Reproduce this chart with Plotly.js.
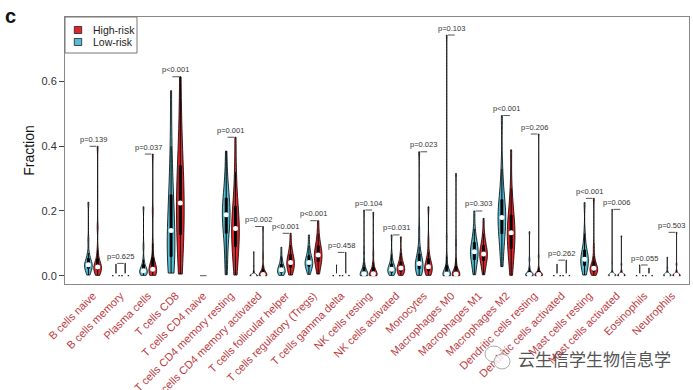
<!DOCTYPE html>
<html>
<head>
<meta charset="utf-8">
<script src="https://cdn.plot.ly/plotly-3.0.1.min.js"></script>
<style>html,body{margin:0;padding:0;background:#fff;}#chart{width:693px;height:390px;}</style>
</head>
<body>
<div id="chart"></div>
<script>
// ---------------- data ----------------
const categories = ["B cells naive","B cells memory","Plasma cells","T cells CD8","T cells CD4 naive",
  "T cells CD4 memory resting","T cells CD4 memory activated","T cells follicular helper",
  "T cells regulatory (Tregs)","T cells gamma delta","NK cells resting","NK cells activated",
  "Monocytes","Macrophages M0","Macrophages M1","Macrophages M2","Dendritic cells resting",
  "Dendritic cells activated","Mast cells resting","Mast cells activated","Eosinophils","Neutrophils"];

const pLabels = ["p=0.139","p=0.625","p=0.037","p<0.001","","p=0.001","p=0.002","p<0.001","p<0.001",
  "p=0.458","p=0.104","p=0.031","p=0.023","p=0.103","p=0.303","p<0.001","p=0.206","p=0.262",
  "p<0.001","p=0.006","p=0.055","p=0.503"];

// approximate sample quantiles per cell type, Low-risk group
const lowRisk = [
  [0.002,0.01,0.017,0.022,0.026,0.03,0.032,0.034,0.037,0.041,0.047,0.056,0.07,0.11,0.227],
  [0,0,0,0,0,0,0,0,0,0,0,0,0,0.008,0.035],
  [0.001,0.004,0.007,0.009,0.011,0.013,0.014,0.015,0.018,0.022,0.028,0.036,0.05,0.09,0.213],
  [0.008,0.025,0.04,0.055,0.07,0.085,0.11,0.14,0.16,0.19,0.22,0.26,0.31,0.4,0.572],
  [0,0,0,0,0,0,0,0,0,0,0,0,0,0,0],
  [0.003,0.04,0.09,0.125,0.15,0.165,0.178,0.188,0.198,0.21,0.225,0.245,0.27,0.31,0.385],
  [0,0,0,0,0,0,0,0,0.001,0.002,0.004,0.008,0.015,0.03,0.074],
  [0.001,0.004,0.007,0.01,0.012,0.014,0.016,0.018,0.021,0.025,0.03,0.037,0.045,0.06,0.088],
  [0.004,0.015,0.022,0.028,0.033,0.036,0.039,0.041,0.045,0.05,0.056,0.064,0.075,0.092,0.126],
  [0,0,0,0,0,0,0,0,0,0,0,0,0,0.006,0.033],
  [0,0,0,0.001,0.002,0.003,0.004,0.006,0.009,0.013,0.019,0.028,0.042,0.075,0.203],
  [0.001,0.004,0.007,0.01,0.013,0.016,0.018,0.02,0.023,0.027,0.032,0.038,0.047,0.065,0.126],
  [0.001,0.007,0.014,0.02,0.026,0.03,0.034,0.038,0.043,0.05,0.058,0.07,0.09,0.14,0.383],
  [0,0,0,0.001,0.002,0.003,0.004,0.005,0.008,0.012,0.02,0.035,0.06,0.12,0.744],
  [0.003,0.02,0.035,0.048,0.056,0.063,0.069,0.074,0.08,0.087,0.095,0.105,0.12,0.145,0.2],
  [0.028,0.07,0.1,0.125,0.145,0.16,0.17,0.18,0.192,0.205,0.22,0.24,0.27,0.33,0.495],
  [0,0,0,0,0.001,0.002,0.003,0.004,0.005,0.007,0.01,0.015,0.025,0.05,0.136],
  [0,0,0,0,0,0,0,0,0,0,0,0,0,0.005,0.035],
  [0.002,0.012,0.022,0.03,0.037,0.042,0.047,0.051,0.056,0.063,0.071,0.082,0.098,0.13,0.226],
  [0,0,0,0,0.001,0.001,0.002,0.002,0.003,0.004,0.006,0.009,0.015,0.04,0.205],
  [0,0,0,0,0,0,0,0,0,0,0,0,0,0.004,0.033],
  [0,0,0,0,0.001,0.001,0.002,0.002,0.003,0.004,0.006,0.009,0.014,0.025,0.057]
];

// approximate sample quantiles per cell type, High-risk group
const highRisk = [
  [0.001,0.007,0.013,0.017,0.021,0.024,0.026,0.027,0.031,0.036,0.043,0.055,0.08,0.15,0.40],
  [0,0,0,0,0,0,0,0,0,0,0,0,0,0.01,0.038],
  [0.001,0.005,0.009,0.012,0.015,0.017,0.019,0.02,0.024,0.03,0.04,0.06,0.1,0.2,0.376],
  [0.005,0.04,0.08,0.12,0.15,0.18,0.2,0.225,0.25,0.28,0.31,0.35,0.4,0.48,0.615],
  [0,0,0,0,0,0,0,0,0,0,0,0,0,0,0],
  [0.002,0.03,0.06,0.085,0.105,0.12,0.135,0.146,0.16,0.175,0.195,0.22,0.26,0.32,0.428],
  [0,0,0,0,0.001,0.002,0.003,0.004,0.006,0.009,0.013,0.02,0.03,0.06,0.152],
  [0.002,0.01,0.018,0.025,0.03,0.035,0.038,0.041,0.046,0.052,0.059,0.067,0.078,0.095,0.131],
  [0.005,0.02,0.032,0.042,0.05,0.055,0.06,0.064,0.07,0.077,0.085,0.095,0.108,0.13,0.17],
  [0,0,0,0,0,0,0,0,0,0,0,0,0,0.012,0.072],
  [0,0,0,0.001,0.002,0.003,0.004,0.006,0.009,0.013,0.019,0.027,0.04,0.07,0.196],
  [0.001,0.005,0.009,0.013,0.016,0.019,0.022,0.024,0.027,0.031,0.036,0.043,0.053,0.07,0.12],
  [0.001,0.005,0.01,0.014,0.018,0.022,0.025,0.028,0.032,0.037,0.044,0.055,0.072,0.11,0.213],
  [0,0,0,0.001,0.002,0.003,0.004,0.005,0.008,0.012,0.019,0.03,0.05,0.1,0.316],
  [0.003,0.02,0.034,0.045,0.052,0.058,0.063,0.067,0.072,0.078,0.086,0.096,0.11,0.13,0.177],
  [0.001,0.03,0.06,0.08,0.097,0.11,0.122,0.133,0.145,0.158,0.173,0.192,0.22,0.27,0.389],
  [0,0,0,0,0.001,0.002,0.003,0.004,0.005,0.007,0.01,0.015,0.025,0.06,0.438],
  [0,0,0,0,0,0,0,0,0,0,0,0,0,0.01,0.048],
  [0.001,0.005,0.009,0.013,0.016,0.019,0.021,0.023,0.026,0.03,0.036,0.045,0.06,0.09,0.239],
  [0,0,0,0,0.001,0.001,0.002,0.002,0.003,0.004,0.006,0.009,0.015,0.035,0.123],
  [0,0,0,0,0,0,0,0,0,0,0,0,0,0.004,0.023],
  [0,0,0,0,0.001,0.001,0.002,0.002,0.003,0.004,0.006,0.009,0.015,0.035,0.134]
];

const groupNames = ["High-risk","Low-risk"];
const yTickVals = [0, 0.2, 0.4, 0.6];
const yTickText = ["0.0","0.2","0.4","0.6"];

// ---------------- styling ----------------
const BLUE = "#56BDD3", RED = "#E2242A";
const OFF = 0.168, VW = 0.28, BR = 0.12;
const FONT = "Liberation Sans, Arial, Helvetica, sans-serif";
const PL = 65, PR = 689, PT = 17, PB = 284;
const px = p => (p - PL) / (PR - PL);
const py = p => (PB - p) / (PB - PT);

function median(a){ const s=[...a].sort((u,v)=>u-v); const n=s.length; return n%2? s[(n-1)/2] : (s[n/2-1]+s[n/2])/2; }

const data = [];
// one violin trace per cell type and group, each scaled on its own
function addViolins(groups, shift, color, name){
  groups.forEach((vals,i)=>{
    if(Math.max(...vals)===Math.min(...vals)) return;
    data.push({type:"violin", x:vals.map(()=>i+shift), y:vals, name:name, scalegroup:name+"_"+i,
      width:VW, fillcolor:color, line:{color:"#000", width:0.8}, points:false, spanmode:"hard",
      scalemode:"width",
      box:{visible:true, width:0.25, fillcolor:"#000", line:{color:"#000", width:1}},
      meanline:{visible:false}, showlegend:false, hoverinfo:"skip"});
  });
}
function medianTrace(groups, shift){
  const xs=[], ys=[];
  groups.forEach((vals,i)=>{
    if(Math.max(...vals)===Math.min(...vals)) return;
    xs.push(i+shift); ys.push(median(vals));
  });
  return {type:"scatter", mode:"markers", x:xs, y:ys, marker:{color:"#fff", size:5, line:{width:0}},
    showlegend:false, hoverinfo:"skip", cliponaxis:false};
}
addViolins(lowRisk, -OFF, BLUE, groupNames[1]);
addViolins(highRisk, OFF, RED, groupNames[0]);
data.push(medianTrace(lowRisk, -OFF));
data.push(medianTrace(highRisk, OFF));

const shapes = [], annotations = [];
categories.forEach((c,i)=>{
  const top = Math.max(...lowRisk[i], ...highRisk[i]);
  shapes.push({type:"line", xref:"x", yref:"y", x0:i-BR, x1:i+BR, y0:top, y1:top, line:{color:"#555", width:1}});
  if(pLabels[i]) annotations.push({xref:"x", yref:"y", x:i, y:top, text:pLabels[i], showarrow:false,
    yanchor:"middle", yshift:7, font:{family:FONT, size:7.5, color:"#333"}});
});

// legend (drawn manually to match the boxed R legend)
shapes.push({type:"rect", xref:"paper", yref:"paper", x0:px(65), x1:px(137), y0:py(53), y1:py(17), line:{color:"#777", width:1}, fillcolor:"#fff", layer:"above"});
[[RED,30],[BLUE,42]].forEach(([col,yc])=>{
  shapes.push({type:"rect", xref:"paper", yref:"paper", x0:px(74.3), x1:px(81.7), y0:py(yc+3.5), y1:py(yc-3.5), line:{color:"#222", width:0.8}, fillcolor:col, layer:"above"});
});
annotations.push({xref:"paper", yref:"paper", x:px(90.5), y:py(30), xanchor:"left", yanchor:"middle", text:groupNames[0], showarrow:false, font:{family:FONT, size:10.5, color:"#222"}});
annotations.push({xref:"paper", yref:"paper", x:px(90.5), y:py(42), xanchor:"left", yanchor:"middle", text:groupNames[1], showarrow:false, font:{family:FONT, size:10.5, color:"#222"}});

// panel letter
annotations.push({xref:"paper", yref:"paper", x:px(3), y:py(3), xanchor:"left", yanchor:"top", text:"<b>c</b>", showarrow:false, font:{family:FONT, size:20, color:"#111"}});
// watermark
annotations.push({xref:"paper", yref:"paper", x:px(594), y:py(358), xanchor:"center", yanchor:"middle", text:"云生信学生物信息学", showarrow:false, font:{family:"Noto Sans CJK SC, sans-serif", size:17, color:"#555"}});
shapes.push({type:"circle", xref:"paper", yref:"paper", x0:px(485), x1:px(503), y0:py(362), y1:py(346), line:{color:"#aaa", width:1}});
shapes.push({type:"circle", xref:"paper", yref:"paper", x0:px(494), x1:px(510), y0:py(369), y1:py(354), line:{color:"#aaa", width:1}, fillcolor:"rgba(255,255,255,0.8)"});

const layout = {
  width:693, height:390, margin:{l:PL, r:693-PR, t:PT, b:390-PB},
  paper_bgcolor:"#fff", plot_bgcolor:"#fff", violinmode:"overlay", showlegend:false,
  font:{family:FONT},
  xaxis:{range:[-1.016, 21.62], tickmode:"array", tickvals:categories.map((c,i)=>i), ticktext:categories,
    tickangle:-45, tickfont:{family:FONT, size:11, color:"#BE3A3E"}, ticks:"", showgrid:false, zeroline:false,
    showline:true, mirror:true, linecolor:"#888", linewidth:1, fixedrange:true},
  yaxis:{range:[-0.0257, 0.7997], tickmode:"array", tickvals:yTickVals, ticktext:yTickText,
    ticks:"outside", ticklen:5, tickcolor:"#444", tickfont:{family:FONT, size:11, color:"#333"},
    showgrid:false, zeroline:false, showline:true, mirror:true, linecolor:"#888", linewidth:1,
    title:{text:"Fraction", font:{family:FONT, size:14, color:"#111"}, standoff:3}},
  shapes:shapes, annotations:annotations
};

Plotly.newPlot("chart", data, layout, {staticPlot:true, displayModeBar:false});
</script>
</body>
</html>
